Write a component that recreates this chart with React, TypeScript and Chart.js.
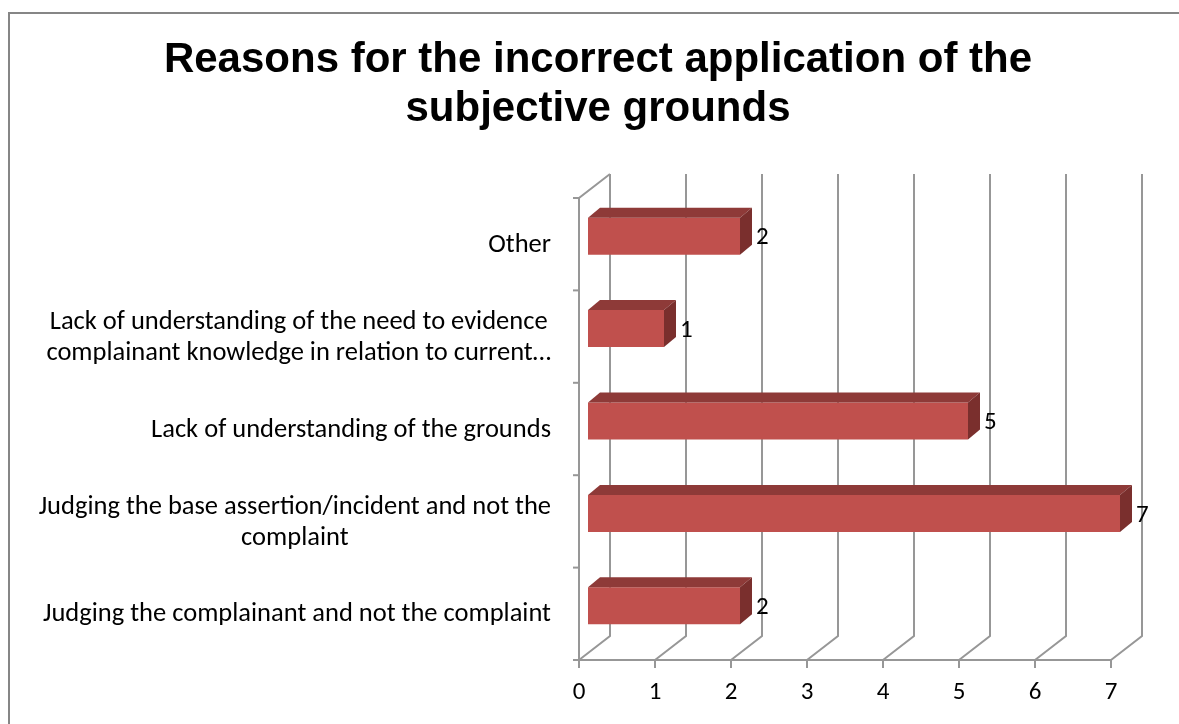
import React, { useEffect, useRef } from 'react';
import { Chart, registerables } from 'chart.js';

Chart.register(...registerables);

const TITLE_LINES = ['Reasons for the incorrect application of the', 'subjective grounds'];
const CATEGORIES: string[][] = [
  ['Other'],
  ['Lack of understanding of the need to evidence', 'complainant knowledge in relation to current…'],
  ['Lack of understanding of the grounds'],
  ['Judging the base assertion/incident and not the', 'complaint'],
  ['Judging the complainant and not the complaint'],
];
const VALUES = [2, 1, 5, 7, 2];
const X_MIN = 0;
const X_MAX = 7;
const X_STEP = 1;

const LABEL_FONT = 'Carlito, Lato, "Open Sans", sans-serif';
const TITLE_FONT = '"Liberation Sans", Arial, sans-serif';

// 3D geometry (pixels)
const DX = 31; // wall depth x
const DY = 24; // wall depth y
const BX = 9; // bar front offset x
const BY = 8; // bar front offset y
const BDX = 12; // bar depth x
const BDY = 10; // bar depth y

const GRID_COLOR = '#979797';
const FRONT = '#C0504D';
const TOP = '#8E3A38';
const SIDE = '#7A2F2D';

const threeD = {
  id: 'threeD',
  beforeDraw(chart: any) {
    const ctx = chart.ctx;
    ctx.save();
    ctx.strokeStyle = '#868686';
    ctx.lineWidth = 2;
    ctx.strokeRect(9, 13, 1300, 900);
    ctx.fillStyle = '#000';
    ctx.font = `bold 42px ${TITLE_FONT}`;
    ctx.textAlign = 'center';
    ctx.textBaseline = 'middle';
    ctx.fillText(TITLE_LINES[0], 598, 60);
    ctx.fillText(TITLE_LINES[1], 598, 109);
    ctx.restore();
  },
  beforeDatasetsDraw(chart: any) {
    const ctx = chart.ctx;
    const { left, right, top, bottom } = chart.chartArea;
    const xs = chart.scales.x;
    const ys = chart.scales.y;
    ctx.save();
    ctx.strokeStyle = GRID_COLOR;
    ctx.lineWidth = 2;
    ctx.lineCap = 'butt';
    for (let v = X_MIN; v <= X_MAX; v += X_STEP) {
      const px = Math.round(xs.getPixelForValue(v));
      ctx.beginPath();
      ctx.moveTo(px + DX, top - DY);
      ctx.lineTo(px + DX, bottom - DY);
      ctx.lineTo(px, bottom);
      ctx.stroke();
      ctx.beginPath();
      ctx.moveTo(px, bottom);
      ctx.lineTo(px, bottom + 8);
      ctx.stroke();
    }
    ctx.beginPath();
    ctx.moveTo(left, bottom);
    ctx.lineTo(right, bottom);
    ctx.stroke();
    ctx.beginPath();
    ctx.moveTo(left + DX, top - DY);
    ctx.lineTo(left, top);
    ctx.lineTo(left, bottom);
    ctx.stroke();
    const n = CATEGORIES.length;
    const band = (bottom - top) / n;
    for (let i = 0; i <= n; i++) {
      const y = top + band * i;
      ctx.beginPath();
      ctx.moveTo(left - 6, y);
      ctx.lineTo(left, y);
      ctx.stroke();
    }
    ctx.fillStyle = '#000';
    ctx.font = `26.5px ${LABEL_FONT}`;
    ctx.textAlign = 'center';
    ctx.textBaseline = 'middle';
    const lineH = 31;
    const rightEdge = 551;
    CATEGORIES.forEach((lines, i) => {
      const yc = ys.getPixelForValue(i) + 1;
      const bw = Math.max(...lines.map((l) => ctx.measureText(l).width));
      const cx = rightEdge - bw / 2;
      lines.forEach((l, j) => {
        ctx.fillText(l, cx, yc + (j - (lines.length - 1) / 2) * lineH);
      });
    });
    ctx.restore();
    ctx.save();
    ctx.translate(BX, -BY);
  },
  afterDatasetsDraw(chart: any) {
    const ctx = chart.ctx;
    ctx.restore();
    ctx.save();
    const meta = chart.getDatasetMeta(0);
    meta.data.forEach((el: any, i: number) => {
      const p = el.getProps(['x', 'y', 'base', 'height'], true);
      const x0 = p.base + BX;
      const x1 = p.x + BX;
      const t = p.y - p.height / 2 - BY;
      const b = p.y + p.height / 2 - BY;
      ctx.fillStyle = TOP;
      ctx.beginPath();
      ctx.moveTo(x0, t);
      ctx.lineTo(x0 + BDX, t - BDY);
      ctx.lineTo(x1 + BDX, t - BDY);
      ctx.lineTo(x1, t);
      ctx.closePath();
      ctx.fill();
      ctx.fillStyle = SIDE;
      ctx.beginPath();
      ctx.moveTo(x1, t);
      ctx.lineTo(x1 + BDX, t - BDY);
      ctx.lineTo(x1 + BDX, b - BDY);
      ctx.lineTo(x1, b);
      ctx.closePath();
      ctx.fill();
      ctx.fillStyle = '#000';
      ctx.font = `25px ${LABEL_FONT}`;
      ctx.textAlign = 'left';
      ctx.textBaseline = 'middle';
      ctx.fillText(String(VALUES[i]), x1 + BDX + 4, (t + b) / 2 + 2);
    });
    ctx.restore();
  },
};

export default function App() {
  const ref = useRef<HTMLCanvasElement | null>(null);
  useEffect(() => {
    if (!ref.current) return;
    const chart = new Chart(ref.current, {
      type: 'bar',
      data: {
        labels: CATEGORIES,
        datasets: [
          {
            data: VALUES,
            backgroundColor: FRONT,
            borderWidth: 0,
            categoryPercentage: 1,
            barPercentage: 0.4,
            clip: false as any,
          },
        ],
      },
      options: {
        indexAxis: 'y',
        animation: false,
        responsive: true,
        maintainAspectRatio: false,
        layout: { padding: { left: 579, right: 68, top: 198, bottom: 0 } },
        plugins: {
          legend: { display: false },
          title: { display: false },
          tooltip: { enabled: false },
        },
        scales: {
          y: { display: false },
          x: {
            min: X_MIN,
            max: X_MAX,
            grid: { display: false, drawTicks: false },
            border: { display: false },
            ticks: {
              stepSize: X_STEP,
              color: '#000',
              padding: 18,
              font: { family: LABEL_FONT, size: 25 },
              maxRotation: 0,
            },
            afterFit(scale: any) {
              scale.height = 64;
            },
          },
        },
      },
      plugins: [threeD],
    });
    return () => chart.destroy();
  }, []);
  return (
    <div style={{ position: 'fixed', left: 0, top: 0, width: 1179, height: 724, background: '#fff' }}>
      <canvas ref={ref} />
    </div>
  );
}
